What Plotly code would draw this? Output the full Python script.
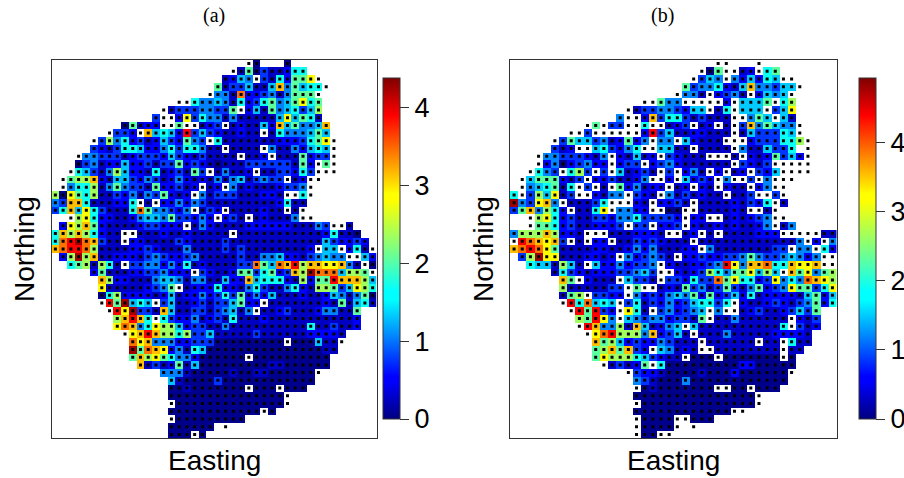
import plotly.graph_objects as go

# One character per grid cell. Digits/letters index the value tables below,
# "o" = sampled cell with no value (white with a dot), " " = outside the region.
KEYS = "0123456789abcd"
VALUES_A = [0.05, 0.25, 0.5, 0.75, 1.05, 1.3, 1.7, 2.05, 2.35, 2.85, 3.15, 3.45, 3.9, 4.25]
VALUES_B = [0.05, 0.3, 0.55, 0.85, 1.2, 1.5, 1.9, 2.3, 2.65, 3.2, 3.55, 3.9, 4.4, 4.8]

START_A = [25, 23, 22, 21, 20, 16, 14, 13, 9, 7, 5, 5, 3, 3, 2, 1, 1, 0, 0, 0, 2, 1, 0, 0, 0, 1, 2, 5, 6, 6, 6, 6, 7, 8, 8, 9, 10, 10, 10, 11, 14, 15, 15, 15, 15, 15, 15, 15, 15]
ROWS_A = [
    "o0   0",
    "o170311266",
    "1254o3162779o",
    "71335115a47566o",
    "o441b223414777o",
    "oo64454162367457967",
    "o133344337o2517456358",
    "3oo2936441411111595761",
    "07122oo7oo123o121152a57445a",
    "o332oa5652c353211211o16444575",
    "o38462312532743o611111112223679o",
    "32136652246366411o1111o41142565o",
    "o44333123332532131111o112o1117233o",
    "03412252231337232101113333331" "72o7o",
    "o65314852216123173o14112o1133263ooo",
    "o788a215532431242121414513433o12oo",
    "o46681474331722312o12o4121112334o",
    "80976811324143721" "2o41333111221oo6o",
    "c43aa6111226o1o22424311111111" "12611"[1:],
    "36a59631116b744324o132o1111211o1o",
    "o896221124554733242o231o121114oo",
    "298a721111233222o1421111222222111" "43oo1",
    "6a8a86211oo111211211111o1111111111126110",
    "6bcdba311o2211113211113111111111111532232",
    "abccb81111223211141111313111111112o55o261o",
    "28d8a11222134322341111131144522134544oo52",
    "6781861o3344242612111133b75bac8aa99a41o0",
    "2711122334222o321127736723a8dbbb5887o",
    "a822111455414411522a5666218277caaa85",
    "9111112347o1222622146311462188735986",
    "068222212512242363724251112112541470",
    "oc7d565o3511231335722o11111112171561",
    "oc9d331a51133134514o1123111244117",
    "8aca6o6322412316111211111111" "1112",
    "9ba46988523311" "4" "1111111111" "611" "3112",
    "o9aca88683351" "1111" "3" "111111" "22221",
    "b9a444223330" "00000000" "o" "000" "511o",
    "d7ba924165" "000000000000000" "11",
    "7a8976442" "000000" "o" "0000000000",
    "a1312715" "000000000" "11" "000000",
    "4441" "00000" "1" "00" "11" "000000" "o",
    "51" "0000" "3" "000000000000",
    "001" "0000000" "o" "000" "o" "000",
    "000000000000000" "o",
    "o" "00000000000000" "o",
    "000000000000" "o0",
    "o" "000000000",
    "000000 o",
    "000o0",
]

START_B = [25, 23, 22, 21, 20, 16, 14, 13, 9, 7, 5, 5, 3, 3, 2, 1, 1, 0, 0, 0, 2, 2, 0, 0, 0, 1, 2, 5, 6, 6, 6, 6, 7, 8, 8, 9, 10, 10, 10, 11, 14, 15, 15, 15, 15, 15, 15, 15, 15]
ROWS_B = [
    "oo   o",
    "o07oo12o67",
    "o354o425265oo",
    "73446215a44355o",
    "o441o2341o2545o",
    "oo744ooooo2o5557o68",
    "o133443255o16o555o359",
    "4oo2a366313111oo475o51",
    "o7o33oo6oo123o12o1o3a47544o",
    "oo3oooooo2c351122111o1533365o",
    "o37553412724o44o52111ooo2333668o",
    "312oo563246oo5511o1111o4115336 o",
    "o44333214o21512o32111ooo1o2127352o",
    "o24023422o233o2342111111o3213ooooo",
    "o643o683o3o51231o3o241o2o12o325oooo",
    "o5777213o2231124oo2o5232o4oo3o4ooo",
    "o456716o3o1o724122o12o21o211o24oo",
    "6o385913oo2144o321o4131211o113oo3o",
    "d439a4o11136ooo21o2231o111121326o1",
    "37a4862o1169o4422oo00oo111121oo1o",
    "o896231133244633332o22oo121234oo",
    "o77623112223o33o223o2112121124o14",
    "4888a8221ooo1112221oo12o1o1111222ooooo11",
    "ocba9a3o1o22o113232111o1111111111114o2o4",
    "abcb9711112211242411122o4111111133o44o62",
    "38d991112212o423431o22322334743345424oo",
    "6551851o52242334o2112234c94aab66a99aoo",
    "1632122233453oo2123864779585oa79478",
    "a7o2111o5331o332633b7966239464ba98",
    "81111133o7oo1217341373147234977369",
    "178o3322o4232454727235261222215725",
    "oc6b565o3613242356636o211232134726",
    "oc7c32o961o342345o4oo1231123537",
    "87c94o5434423317o114111111o213",
    "oca4481a51245o51111111111" "6o312",
    "o9bc8884a2351o111411111" "22221",
    "a785232243111o111111o11o611",
    "78a7a32o54121oo11111111o11",
    "79888653211o000o0000000o0",
    "o13127o600000000022" "00000",
    "o32210000100020000" "00o",
    "431000" "4" "000000000000",
    "o01" "0000000" "oo00o000",
    "000000000000000" "o",
    "o" "00000000000000" "o",
    "000000000000" "oo",
    "o0000oo000",
    "o0000o o",
    "o00oo",
]

N_COLS_A, N_COLS_B, N_ROWS = 42, 40, 49
TICKS_A = [0, 1, 2, 3, 4]
TICKS_B = [0, 1, 2, 3, 4]
MAX_A, MAX_B = 4.385, 4.94
JET = [[0, "#000080"], [0.11, "#0000ff"], [0.125, "#0000ff"], [0.35, "#00ffff"], [0.375, "#00ffff"],
       [0.5, "#7fff7f"], [0.64, "#ffff00"], [0.66, "#ffff00"], [0.89, "#ff0000"], [1, "#800000"]]

W, H = 904, 478


def decode(rows, starts, ncols, values):
    z = [[None] * ncols for _ in range(N_ROWS)]
    dx, dy = [], []
    table = dict(zip(KEYS, values))
    for r, (s, row) in enumerate(zip(starts, rows)):
        for i, ch in enumerate(row):
            c = s + i
            if ch == " " or c >= ncols:
                continue
            dx.append(c)
            dy.append(r)
            if ch != "o":
                z[r][c] = table[ch]
    return z, dx, dy


fig = go.Figure()


def panel(idx, rows, starts, ncols, values, zmax, ticks, x0, x1, cb_x):
    z, dx, dy = decode(rows, starts, ncols, values)
    xa, ya = f"x{idx}", f"y{idx}"
    fig.add_trace(go.Heatmap(
        z=z, x=list(range(ncols)), y=list(range(N_ROWS)), xaxis=xa, yaxis=ya,
        zmin=0, zmax=zmax, colorscale=JET, hoverongaps=False,
        colorbar=dict(x=cb_x / W, xanchor="left", y=1 - 78 / H, yanchor="top",
                      len=341, lenmode="pixels", thickness=17, thicknessmode="pixels",
                      xpad=0, ypad=0, outlinewidth=1, outlinecolor="#333",
                      ticks="outside", ticklen=9, tickcolor="#333", tickwidth=1,
                      tickmode="array", tickvals=ticks, ticktext=[str(t) for t in ticks],
                      tickfont=dict(family="Liberation Sans", size=27, color="black")),
    ))
    fig.add_trace(go.Scatter(
        x=dx, y=dy, xaxis=xa, yaxis=ya, mode="markers", showlegend=False, hoverinfo="skip",
        marker=dict(symbol="square", size=3, color="black", line=dict(width=0)),
    ))
    common = dict(showgrid=False, zeroline=False, showticklabels=False, ticks="",
                  showline=True, linecolor="#333", linewidth=1, mirror=True)
    fig.update_layout({
        f"xaxis{idx}": dict(domain=[x0 / W, x1 / W], range=[-0.5, ncols - 0.5], anchor=ya, **common),
        f"yaxis{idx}": dict(domain=[1 - 438.3 / H, 1 - 59.7 / H], range=[N_ROWS - 0.5, -0.5], anchor=xa, **common),
    })


panel("", ROWS_A, START_A, N_COLS_A, VALUES_A, MAX_A, TICKS_A, 51.5, 376.5, 383)
panel("2", ROWS_B, START_B, N_COLS_B, VALUES_B, MAX_B, TICKS_B, 510, 836.5, 859)


def label(text, x, y, size, family, angle=0):
    fig.add_annotation(text=text, x=x / W, y=1 - y / H, xref="paper", yref="paper",
                       xanchor="center", yanchor="middle", showarrow=False, textangle=angle,
                       font=dict(family=family, size=size, color="black"))


label("(a)", 214, 16, 20, "Liberation Serif")
label("(b)", 662, 16, 20, "Liberation Serif")
label("Easting", 214, 460, 28, "Liberation Sans")
label("Easting", 673, 460, 28, "Liberation Sans")
label("Northing", 24, 249, 28, "Liberation Sans", -90)
label("Northing", 483, 249, 28, "Liberation Sans", -90)

fig.update_layout(width=W, height=H, autosize=False,
                  margin=dict(l=0, r=0, t=0, b=0, autoexpand=False),
                  paper_bgcolor="white", plot_bgcolor="white", showlegend=False)
fig.write_html("out.html", post_script="document.body.style.margin='0';",
               config={"displayModeBar": False})
